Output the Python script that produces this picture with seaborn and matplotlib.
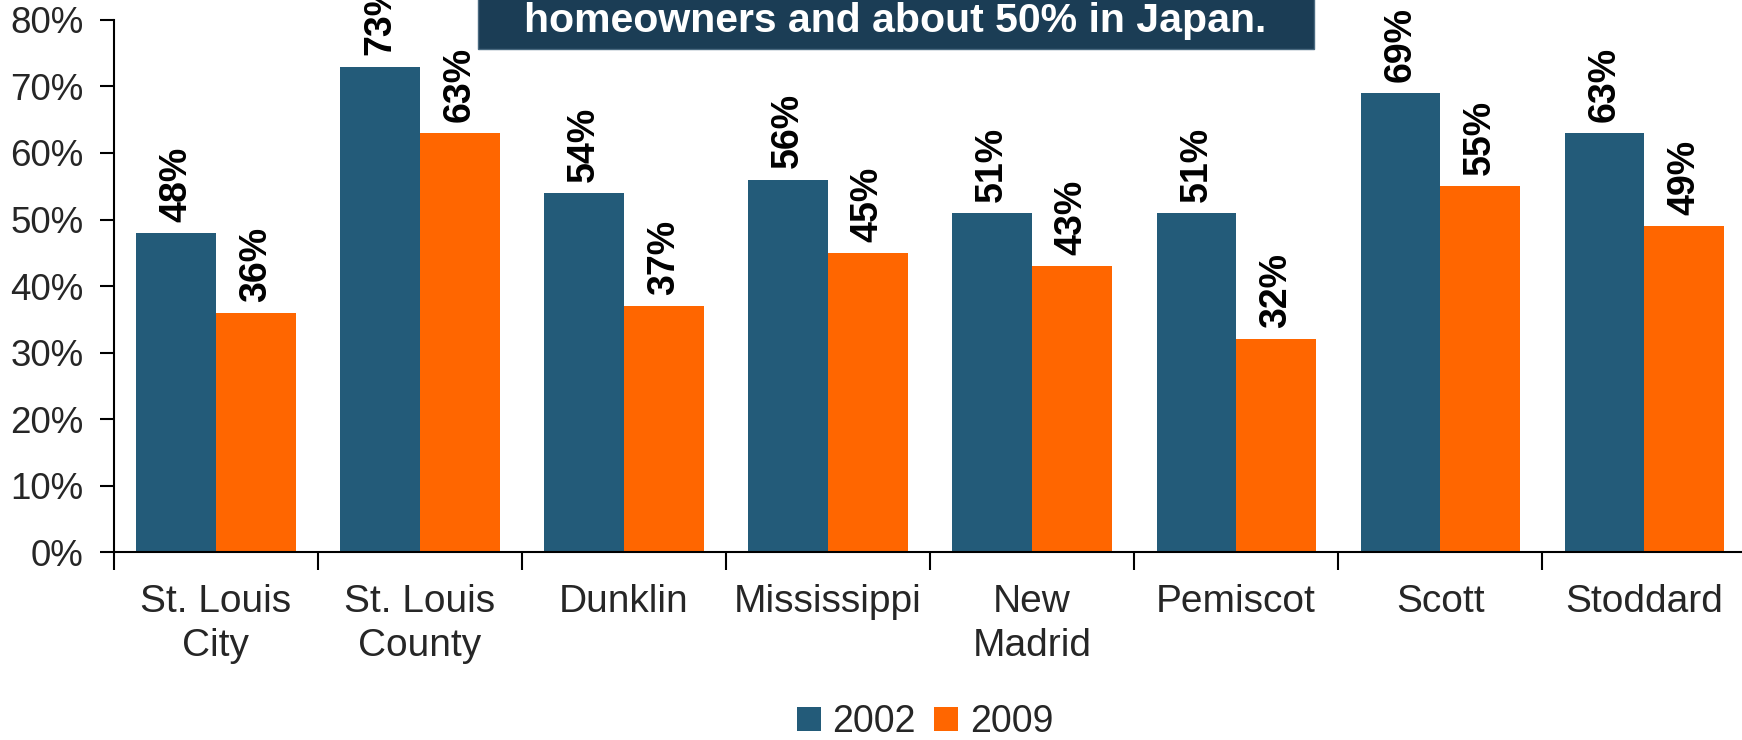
import matplotlib
matplotlib.use("Agg")
import matplotlib.pyplot as plt
import matplotlib.patches as mpatches
import pandas as pd
import seaborn as sns

counties = ["St. Louis\nCity", "St. Louis\nCounty", "Dunklin", "Mississippi",
            "New\nMadrid", "Pemiscot", "Scott", "Stoddard"]
years = ["2002", "2009"]
share_2002 = [48, 73, 54, 56, 51, 51, 69, 63]
share_2009 = [36, 63, 37, 45, 43, 32, 55, 49]
y_ticks = [0, 10, 20, 30, 40, 50, 60, 70, 80]
banner_text = "homeowners and about 50% in Japan."

blue = "#235B79"
orange = "#FF6600"
banner_color = "#1B3D55"

df = pd.DataFrame({
    "county": counties * 2,
    "year": [years[0]] * len(counties) + [years[1]] * len(counties),
    "share": share_2002 + share_2009,
})

sns.set_style("white")
plt.rcParams["font.family"] = ["Liberation Sans", "DejaVu Sans"]

fig = plt.figure(figsize=(17.42, 7.40), dpi=100)
ax = fig.add_axes([0.0654, 0.254, 0.937, 0.719])

sns.barplot(data=df, x="county", y="share", hue="year", order=counties,
            hue_order=years, palette=[blue, orange], width=0.78,
            saturation=1, ax=ax, legend=True, linewidth=0)

for cont in ax.containers:
    vals = [b.get_height() for b in cont]
    ax.bar_label(cont, labels=[f"{v:.0f}%" for v in vals], rotation=90,
                 padding=8, fontsize=27, fontweight="bold", color="black")

ax.set_ylim(0, 80)
ax.set_xlim(-0.5, len(counties) - 0.5)
ax.set_yticks(y_ticks)
ax.set_yticklabels([f"{t}%" for t in y_ticks])
ax.set_xlabel("")
ax.set_ylabel("")

# category labels on minor ticks, boundary marks on major ticks
ax.set_xticks([i - 0.5 for i in range(len(counties) + 1)])
ax.set_xticklabels([""] * (len(counties) + 1))
ax.set_xticks(range(len(counties)), minor=True)
ax.set_xticklabels(counties, minor=True, fontsize=28, linespacing=1.3)
ax.tick_params(axis="x", which="major", bottom=True, direction="out",
               length=13, width=1.5, color="black")
ax.tick_params(axis="x", which="minor", bottom=True, length=0, pad=23)
ax.tick_params(axis="y", left=True, direction="out", length=10, width=1.5,
               color="black", labelsize=26.5, pad=12)

for side in ["top", "right"]:
    ax.spines[side].set_visible(False)
for side in ["left", "bottom"]:
    ax.spines[side].set_color("black")
    ax.spines[side].set_linewidth(1.5)

handles, labels = ax.get_legend_handles_labels()
ax.get_legend().remove()
fig.legend(handles, labels, loc="center", bbox_to_anchor=(0.531, 0.024),
           ncol=2, frameon=False, fontsize=27, handlelength=0.64,
           handleheight=0.64, handletextpad=0.3, columnspacing=0.5,
           borderpad=0, borderaxespad=0)

# banner box at the top
fig.patches.append(mpatches.Rectangle((478 / 1742, 1 - 49 / 740),
                                      836 / 1742, 0.2,
                                      transform=fig.transFigure,
                                      facecolor=banner_color,
                                      edgecolor="#4A6A80", linewidth=1,
                                      zorder=5))
fig.text(895 / 1742, 1 - 32 / 740, banner_text, color="white",
         fontsize=29.5, fontweight="bold", ha="center", va="baseline",
         zorder=6)

fig.savefig("out.png", dpi=100)
